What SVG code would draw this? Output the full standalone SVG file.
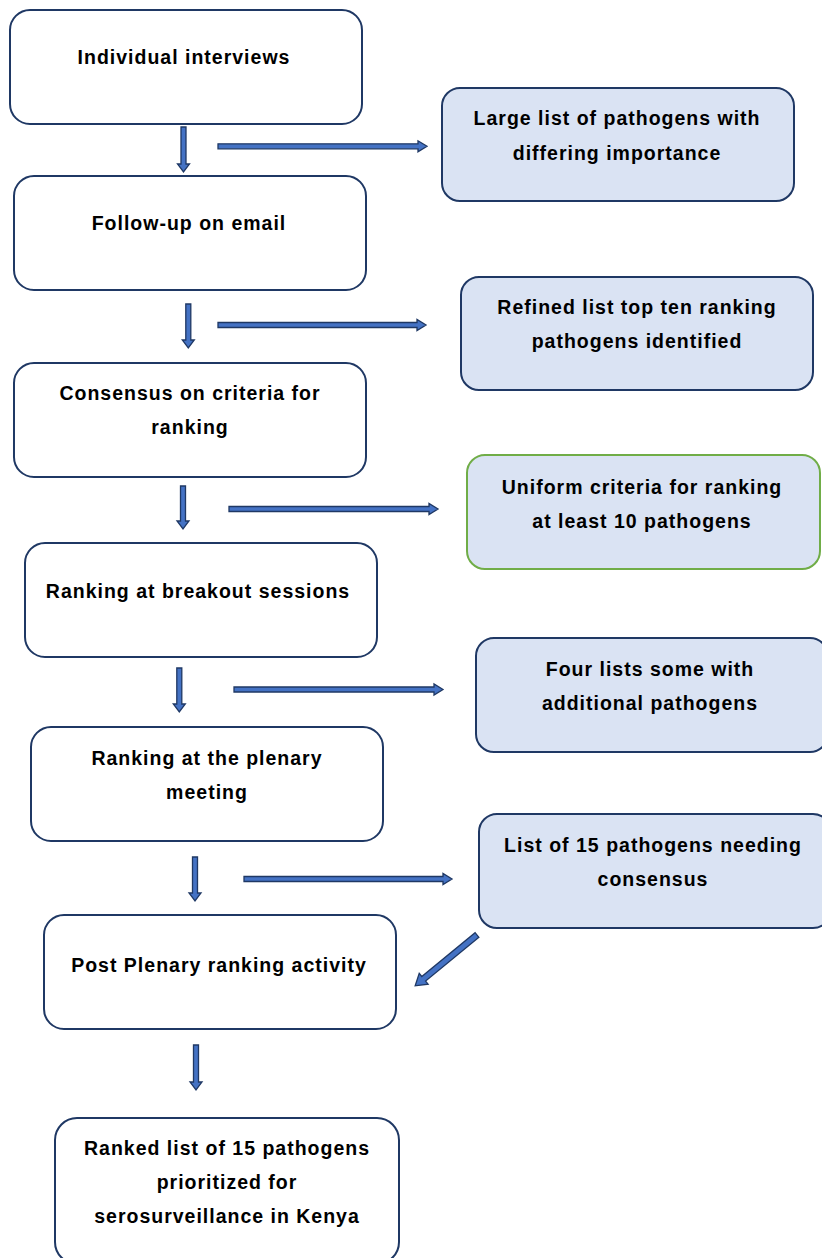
<svg xmlns="http://www.w3.org/2000/svg" width="822" height="1258" viewBox="0 0 822 1258">
<style>
.box{fill:#ffffff;stroke:#1F3864;stroke-width:2}
.out{fill:#DAE3F3;stroke:#1F3864;stroke-width:2}
.green{fill:#DAE3F3;stroke:#70AD47;stroke-width:2}
.arr{fill:#4472C4;stroke:#1F3864;stroke-width:1.3;stroke-linejoin:miter}
text{font-family:"Liberation Sans",Arial,sans-serif;font-weight:bold;font-size:19.5px;letter-spacing:1px;fill:#000;text-anchor:middle}
</style>
<rect width="822" height="1258" fill="#ffffff"/>
<g id="n1"><rect class="box" x="10" y="10" width="352" height="114" rx="20"/><text x="184" y="64">Individual interviews</text></g>
<g id="n2"><rect class="box" x="14" y="176" width="352" height="114" rx="20"/><text x="189" y="230">Follow-up on email</text></g>
<g id="n3"><rect class="box" x="14" y="363" width="352" height="114" rx="20"/><text x="190" y="400">Consensus on criteria for</text><text x="190" y="434">ranking</text></g>
<g id="n4"><rect class="box" x="25" y="543" width="352" height="114" rx="20"/><text x="198" y="598">Ranking at breakout sessions</text></g>
<g id="n5"><rect class="box" x="31" y="727" width="352" height="114" rx="20"/><text x="207" y="765">Ranking at the plenary</text><text x="207" y="799">meeting</text></g>
<g id="n6"><rect class="box" x="44" y="915" width="352" height="114" rx="20"/><text x="219" y="972">Post Plenary ranking activity</text></g>
<g id="n7"><rect class="box" x="55" y="1118" width="344" height="146" rx="22"/><text x="227" y="1155">Ranked list of 15 pathogens</text><text x="227" y="1189">prioritized for</text><text x="227" y="1223">serosurveillance in Kenya</text></g>
<g id="o1"><rect class="out" x="442" y="88" width="352" height="113" rx="18"/><text x="617" y="125">Large list of pathogens with</text><text x="617" y="160">differing importance</text></g>
<g id="o2"><rect class="out" x="461" y="277" width="352" height="113" rx="18"/><text x="637" y="314">Refined list top ten ranking</text><text x="637" y="348">pathogens identified</text></g>
<g id="o3"><rect class="green" x="467" y="455" width="353" height="114" rx="18"/><text x="642" y="494">Uniform criteria for ranking</text><text x="642" y="528">at least 10 pathogens</text></g>
<g id="o4"><rect class="out" x="476" y="638" width="352" height="114" rx="18"/><text x="650" y="676">Four lists some with</text><text x="650" y="710">additional pathogens</text></g>
<g id="o5"><rect class="out" x="479" y="814" width="352" height="114" rx="18"/><text x="653" y="852">List of 15 pathogens needing</text><text x="653" y="886">consensus</text></g>
<g id="connectors">
<polygon class="arr" points="181,127 186,127 186,164 189.5,164 183.5,172 177.5,164 181,164"/>
<polygon class="arr" points="185.8,304 190.8,304 190.8,340 194.3,340 188.3,348 182.3,340 185.8,340"/>
<polygon class="arr" points="180.5,486 185.5,486 185.5,521 189,521 183,529 177,521 180.5,521"/>
<polygon class="arr" points="176.8,668 181.8,668 181.8,704 185.3,704 179.3,712 173.3,704 176.8,704"/>
<polygon class="arr" points="192.5,857 197.5,857 197.5,893 201,893 195,901 189,893 192.5,893"/>
<polygon class="arr" points="193.5,1045 198.5,1045 198.5,1082 202,1082 196,1090 190,1082 193.5,1082"/>
<polygon class="arr" points="218,143.8 418,143.8 418,140.8 427,146.3 418,151.8 418,148.8 218,148.8"/>
<polygon class="arr" points="218,322.5 417,322.5 417,319.5 426,325 417,330.5 417,327.5 218,327.5"/>
<polygon class="arr" points="229,506.5 429,506.5 429,503.5 438,509 429,514.5 429,511.5 229,511.5"/>
<polygon class="arr" points="234,687 434,687 434,684 443,689.5 434,695 434,692 234,692"/>
<polygon class="arr" points="244,876.5 443,876.5 443,873.5 452,879 443,884.5 443,881.5 244,881.5"/>
<polygon class="arr" transform="translate(477,935) rotate(140.6)" points="0,-3 69,-3 69,-7 80,0 69,7 69,3 0,3"/>
</g>
</svg>
